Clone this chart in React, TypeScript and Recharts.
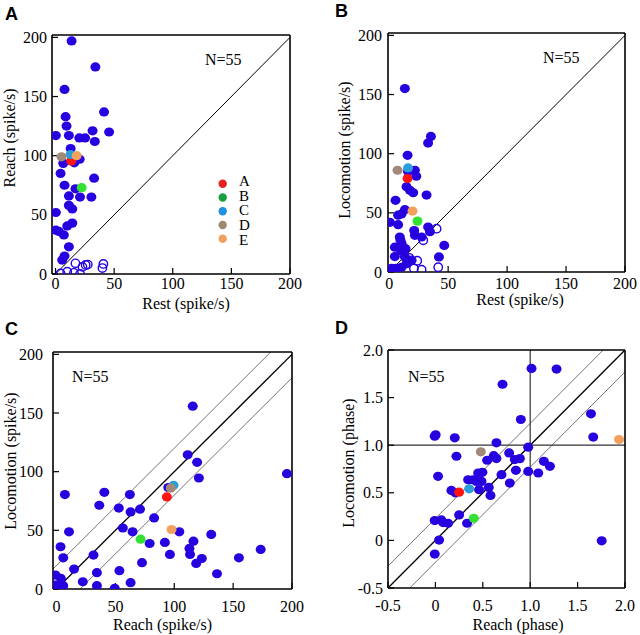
import React from 'react';
import { ScatterChart, Scatter, XAxis, YAxis, ReferenceLine, Cell } from 'recharts';

type Pt = [number, number];

// ---------- shared labels ----------
const panelLetters = ['A', 'B', 'C', 'D'];
const sampleLabel = 'N=55';
const highlightNames = ['A', 'B', 'C', 'D', 'E'];
const highlightColors = ['#ff1414', '#33e033', '#2a9edb', '#a18878', '#f2a05e'];
const legendColors = ['#e82020', '#18a040', '#2090e0', '#a08870', '#f0a060'];

const rateTicks = [0, 50, 100, 150, 200];
const phaseTicks = [-0.5, 0, 0.5, 1, 1.5, 2];
const phaseTickLabels = ['-0.5', '0', '0.5', '1.0', '1.5', '2.0'];
const rateBand = 20;
const phaseBand = 0.23;

// ---------- Panel A: Rest (x) vs Reach (y) ----------
const aFilled: Pt[] = [
  [13.7, 197], [34, 175], [7.7, 156], [41.4, 137], [8.6, 133], [9.4, 125], [0.3, 117], [11.4, 117],
  [20.3, 115], [25.2, 115], [31.6, 121], [33.5, 112], [45.7, 120], [12.9, 106], [20.6, 97], [16, 94],
  [6.6, 93.5], [4.3, 85], [7.7, 75], [17, 72], [32.9, 81], [11.4, 66], [20.9, 65], [30.6, 65],
  [11.4, 58], [14.3, 55], [0.3, 52], [14.3, 43], [10, 40.6], [0.3, 37], [2.9, 36], [7.1, 33],
  [11.4, 23], [7.7, 15.2], [5.7, 11.8],
];
const aOpen: Pt[] = [
  [4.3, 0.5], [10, 2], [15.7, 1], [21, 0], [17, 9], [23, 6], [25.7, 7.6], [27.5, 8], [40, 5], [40.8, 8.5],
];
const aHighlight: Pt[] = [[13.4, 95.5], [22.3, 73], [12.9, 101], [5.1, 99], [18, 100]];

// ---------- Panel B: Rest (x) vs Locomotion (y) ----------
const bFilled: Pt[] = [
  [13.3, 155], [35.4, 114.6], [33, 109], [15.6, 98.6], [21.8, 86], [23, 81], [16, 85], [14.7, 72],
  [17.6, 69], [20.4, 67], [31.7, 65], [5.4, 60.6], [13.3, 52.7], [10.5, 49], [7.6, 48], [0.6, 42],
  [7.6, 40], [21.2, 35], [21.8, 31], [27.5, 29.6], [33, 38], [34.6, 34], [9, 29.6], [9.5, 27],
  [10.5, 24], [9.9, 18], [13.9, 19.7], [4.8, 21], [46.7, 22.5], [42.2, 12.7], [4.8, 13], [13.3, 12.7],
  [2, 3], [6, 3], [10.5, 4], [14.7, 7], [19, 10], [2.5, 1],
];
const bOpen: Pt[] = [[40.2, 36.6], [28.9, 26.8], [17, 12], [23.8, 9.5], [21, 3], [27.5, 2], [41.6, 4]];
const bHighlight: Pt[] = [[15.6, 79], [24, 43], [16, 88], [7.1, 86], [19.8, 51.5]];

// ---------- Panel C: Reach (x) vs Locomotion (y) ----------
const cFilled: Pt[] = [
  [115.7, 155.8], [111.4, 114.4], [119.4, 108], [120.9, 94.6], [195.7, 98.3], [7.1, 80.5], [40.6, 82.4],
  [62.3, 80.5], [94.9, 86.5], [36.3, 71.4], [52.9, 69], [70.9, 68], [62.9, 65.7], [82.9, 60.6], [56.3, 52],
  [64.6, 48.7], [104.3, 48.7], [10.6, 48.7], [131.4, 46.5], [3.4, 36], [79.1, 38.8], [92, 39.7],
  [116.3, 40.8], [112.9, 34.6], [173.4, 33.7], [5.7, 26.6], [31.4, 28.9], [96.3, 29.5], [113.4, 29.5],
  [154.9, 26.6], [123.4, 26], [118.6, 21.8], [72.6, 22.4], [14.9, 17], [34.3, 13.9], [53.4, 15.6],
  [136.3, 13], [-0.9, 11.9], [3.7, 9], [22.3, 6.2], [62.9, 5.4], [34.3, 2.8], [49.4, 0.6], [-1.4, 3.4],
  [2.3, 3.4], [5.7, 2.8],
];
const cHighlight: Pt[] = [[93.7, 78.5], [71.4, 42.5], [99.4, 88.4], [97, 86], [97.7, 50.7]];

// ---------- Panel D: Reach phase (x) vs Locomotion phase (y) ----------
const dFilled: Pt[] = [
  [1.014, 1.806], [1.278, 1.8], [0.708, 1.64], [0.901, 1.27], [1.641, 1.33], [1.665, 1.085], [-0.007, 1.095],
  [0.003, 1.11], [0.204, 1.077], [0.644, 1.025], [0.222, 0.884], [0.546, 0.842], [0.616, 0.89], [0.644, 0.86],
  [0.028, 0.673], [0.697, 0.69], [0.345, 0.637], [0.398, 0.637], [0.451, 0.708], [0.496, 0.715], [0.486, 0.62],
  [0.433, 0.62], [0.169, 0.525], [0.21, 0.5], [0.461, 0.532], [0.563, 0.556], [0.581, 0.472], [0.25, 0.268],
  [0.334, 0.18], [-0.007, 0.208], [0.063, 0.215], [0.081, 0.187], [0.134, 0.18], [0.039, 0.003], [-0.007, -0.144],
  [0.778, 0.919], [0.891, 0.859], [0.838, 0.849], [0.979, 0.979], [0.849, 0.736], [0.785, 0.602], [0.979, 0.725],
  [1.085, 0.708], [1.144, 0.831], [1.208, 0.778], [1.754, -0.004],
];
const dHighlight: Pt[] = [[0.25, 0.507], [0.405, 0.232], [0.356, 0.542], [0.479, 0.93], [1.937, 1.06]];

// ---------- styling ----------
const BLUE = '#2800e0';
const SERIF = 'Liberation Serif, DejaVu Serif, serif';
const SANS = 'Liberation Sans, Arial, sans-serif';

const toRows = (pts: Pt[]) => pts.map(([x, y]) => ({ x, y }));

const FilledDot = (p: any) =>
  p.cx == null ? null : <ellipse cx={p.cx} cy={p.cy} rx={5} ry={4.6} fill={p.fill} />;
const OpenDot = (p: any) =>
  p.cx == null ? null : <circle cx={p.cx} cy={p.cy} r={4.2} fill="none" stroke={BLUE} strokeWidth={1.4} />;

type Box = { left: number; top: number; width: number; height: number; tH: number; bH: number; lW: number; rW: number };

const SerifTick = (p: any) => {
  const { x, y, payload, textAnchor, fmt, vertical } = p;
  const label = fmt ? fmt(payload.value) : String(payload.value);
  return (
    <text x={x} y={y} dy={vertical ? '0.35em' : '0.75em'} textAnchor={textAnchor}
      style={{ fontFamily: SERIF, fontSize: 16, fill: '#000' }}>
      {label}
    </text>
  );
};

function Panel(props: {
  box: Box;
  xDomain: [number, number];
  yDomain: [number, number];
  ticks: number[];
  xMargin: number;
  yMargin: number;
  fmt?: (v: number) => string;
  filled: Pt[];
  open?: Pt[];
  highlight: Pt[];
  lines: React.ReactNode[];
}) {
  const { box, xDomain, yDomain, ticks, xMargin, yMargin, fmt, filled, open, highlight, lines } = props;
  const axisLine = { stroke: '#000', strokeWidth: 1.6 };
  const tickLine = { stroke: '#000', strokeWidth: 1.2 };
  return (
    <div style={{ position: 'absolute', left: box.left, top: box.top }}>
      <ScatterChart width={box.width} height={box.height} margin={{ top: 0, right: 0, bottom: 0, left: 0 }}>
        <XAxis xAxisId="b" dataKey="x" type="number" orientation="bottom" domain={xDomain} ticks={ticks}
          interval={0} allowDataOverflow height={box.bH} tickSize={-6} tickMargin={xMargin}
          tick={<SerifTick fmt={fmt} />} axisLine={axisLine} tickLine={tickLine} />
        <XAxis xAxisId="t" type="number" orientation="top" domain={xDomain} ticks={ticks}
          interval={0} allowDataOverflow height={box.tH} tickSize={-6} tick={false}
          axisLine={axisLine} tickLine={tickLine} />
        <YAxis yAxisId="l" dataKey="y" type="number" orientation="left" domain={yDomain} ticks={ticks}
          interval={0} allowDataOverflow width={box.lW} tickSize={-6} tickMargin={yMargin}
          tick={<SerifTick fmt={fmt} vertical />} axisLine={axisLine} tickLine={tickLine} />
        <YAxis yAxisId="r" type="number" orientation="right" domain={yDomain} ticks={ticks}
          interval={0} allowDataOverflow width={box.rW} tickSize={-6} tick={false}
          axisLine={axisLine} tickLine={tickLine} />
        {lines}
        <Scatter xAxisId="b" yAxisId="l" data={toRows(filled)} fill={BLUE} shape={FilledDot} isAnimationActive={false} />
        {open ? (
          <Scatter xAxisId="b" yAxisId="l" data={toRows(open)} fill="none" shape={OpenDot} isAnimationActive={false} />
        ) : null}
        <Scatter xAxisId="b" yAxisId="l" data={toRows(highlight)} shape={FilledDot} isAnimationActive={false}>
          {highlight.map((_, i) => (
            <Cell key={i} fill={highlightColors[i]} />
          ))}
        </Scatter>
      </ScatterChart>
    </div>
  );
}

const refLine = (key: string, a: { x: number; y: number }, b: { x: number; y: number }, stroke: string, w: number) => (
  <ReferenceLine key={key} xAxisId="b" yAxisId="l" segment={[a, b]} stroke={stroke} strokeWidth={w} ifOverflow="hidden" />
);

const fmtPhase = (v: number) => {
  const i = phaseTicks.indexOf(v);
  return i >= 0 ? phaseTickLabels[i] : String(v);
};

export default function App() {
  const rateLo = -3;
  const rateHi = 200;

  const linesA = [refLine('d', { x: 0, y: 0 }, { x: rateHi, y: rateHi }, '#000', 1)];
  const linesB = [refLine('d', { x: 0, y: 0 }, { x: rateHi, y: rateHi }, '#000', 1)];
  const linesC = [
    refLine('u', { x: rateLo - 20, y: rateLo - 20 + rateBand }, { x: rateHi, y: rateHi + rateBand }, '#666', 0.9),
    refLine('d', { x: 0, y: 0 }, { x: rateHi, y: rateHi }, '#000', 1.3),
    refLine('l', { x: rateLo, y: rateLo - rateBand }, { x: rateHi + 20, y: rateHi + 20 - rateBand }, '#666', 0.9),
  ];
  const linesD = [
    refLine('u', { x: -1, y: -1 + phaseBand }, { x: 2, y: 2 + phaseBand }, '#666', 0.9),
    refLine('d', { x: -0.5, y: -0.5 }, { x: 2, y: 2 }, '#000', 1.3),
    refLine('l', { x: -1, y: -1 - phaseBand }, { x: 2.5, y: 2.5 - phaseBand }, '#666', 0.9),
    <ReferenceLine key="h" xAxisId="b" yAxisId="l" y={1} stroke="#333" strokeWidth={1.2} />,
    <ReferenceLine key="v" xAxisId="b" yAxisId="l" x={1} stroke="#333" strokeWidth={1.2} />,
  ];

  const boxA: Box = { left: 0, top: 0, width: 320, height: 315, tH: 35, bH: 41, lW: 52, rW: 30 };
  const boxB: Box = { left: 320, top: 0, width: 320, height: 315, tH: 33, bH: 43, lW: 68, rW: 15 };
  const boxC: Box = { left: 0, top: 315, width: 320, height: 320, tH: 37, bH: 46, lW: 53, rW: 28 };
  const boxD: Box = { left: 320, top: 315, width: 320, height: 320, tH: 35, bH: 47, lW: 68, rW: 15 };

  const txt = { fontFamily: SERIF, fontSize: 16, fill: '#000' };
  const letterPos = [[5, 19.5], [335, 17], [5, 335], [335, 334]];
  const nPos = [[205, 65], [543, 63], [72, 382], [408, 382]];
  const xTitles: [string, number, number][] = [
    ['Rest (spike/s)', 186, 309], ['Rest (spike/s)', 520, 305], ['Reach (spike/s)', 162.5, 630], ['Reach (phase)', 518, 630],
  ];
  const yTitles: [string, number, number][] = [
    ['Reach (spike/s)', 15, 138], ['Locomotion (spike/s)', 350, 150], ['Locomotion (spike/s)', 16, 461], ['Locomotion (phase)', 353.5, 463],
  ];

  return (
    <div style={{ position: 'absolute', left: 0, top: 0, width: 640, height: 635, background: '#fff', overflow: 'hidden' }}>
      <Panel box={boxA} xDomain={[rateLo, rateHi]} yDomain={[0, 202]} ticks={rateTicks} xMargin={9} yMargin={11}
        filled={aFilled} open={aOpen} highlight={aHighlight} lines={linesA} />
      <Panel box={boxB} xDomain={[-1, rateHi]} yDomain={[0, 202]} ticks={rateTicks} xMargin={11} yMargin={12}
        filled={bFilled} open={bOpen} highlight={bHighlight} lines={linesB} />
      <Panel box={boxC} xDomain={[rateLo, rateHi]} yDomain={[0, 202]} ticks={rateTicks} xMargin={17} yMargin={16}
        filled={cFilled} highlight={cHighlight} lines={linesC} />
      <Panel box={boxD} xDomain={[-0.5, 2]} yDomain={[-0.5, 2]} ticks={phaseTicks} xMargin={17} yMargin={11} fmt={fmtPhase}
        filled={dFilled} highlight={dHighlight} lines={linesD} />
      <svg width={640} height={635} style={{ position: 'absolute', left: 0, top: 0, pointerEvents: 'none' }}>
        {panelLetters.map((l, i) => (
          <text key={l} x={letterPos[i][0]} y={letterPos[i][1]} style={{ fontFamily: SANS, fontWeight: 'bold', fontSize: 18, fill: '#000' }}>{l}</text>
        ))}
        {nPos.map((p, i) => (
          <text key={i} x={p[0]} y={p[1]} style={txt}>{sampleLabel}</text>
        ))}
        {xTitles.map(([t, x, y], i) => (
          <text key={i} x={x} y={y} textAnchor="middle" style={txt}>{t}</text>
        ))}
        {yTitles.map(([t, x, y], i) => (
          <text key={i} x={x} y={y} textAnchor="middle" transform={`rotate(-90 ${x} ${y})`} style={txt}>{t}</text>
        ))}
        {highlightNames.map((n, i) => (
          <g key={n}>
            <circle cx={222.7} cy={183.7 + i * 13.75} r={4.2} fill={legendColors[i]} />
            <text x={239} y={185.8 + i * 14.8} style={{ ...txt, fontSize: 15 }}>{n}</text>
          </g>
        ))}
      </svg>
    </div>
  );
}
